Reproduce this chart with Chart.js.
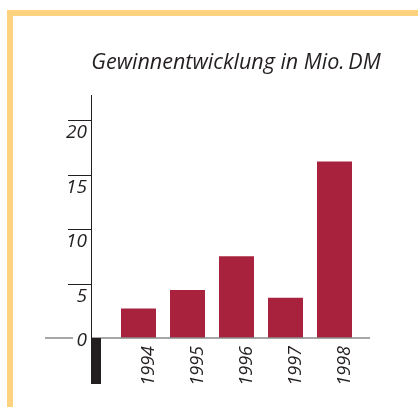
<!DOCTYPE html>
<html>
<head>
<meta charset="utf-8">
<script src="https://cdn.jsdelivr.net/npm/chart.js@4"></script>
<style>
  html, body { margin: 0; padding: 0; background: #fff; }
  #wrap { width: 418px; height: 407px; position: relative; }
</style>
</head>
<body>
<div id="wrap"><canvas id="chart-bar" width="418" height="407"></canvas></div>
<script>
var years = ["1994", "1995", "1996", "1997", "1998"];
var profit = [2.7, 4.4, 7.5, 3.7, 16.2];
var yTicks = [0, 5, 10, 15, 20];
var title = "Gewinnentwicklung in Mio.\u2009DM";

var ink = "#231f20";
var fontName = "'Open Sans', 'Noto Sans', sans-serif";

// frame, title, custom y axis with ticks above labels, zero line
var decor = {
  id: "decor",
  beforeDraw: function(chart) {
    var c = chart.ctx;
    c.save();
    c.fillStyle = "#ffd27f";
    c.fillRect(7, 10, 411, 6);
    c.fillRect(7, 10, 6, 397);
    c.restore();
  },
  afterDraw: function(chart) {
    var c = chart.ctx;
    var y = chart.scales.y;
    var area = chart.chartArea;
    var axisX = area.left - 23;
    var zero = y.getPixelForValue(0);
    c.save();

    c.fillStyle = ink;
    c.font = "italic 21.5px " + fontName;
    c.textAlign = "center";
    c.textBaseline = "alphabetic";
    c.fillText(title, 236, 69);

    // zero line
    c.strokeStyle = "#8a8a8a";
    c.lineWidth = 1.5;
    c.beginPath();
    c.moveTo(45, zero); c.lineTo(73, zero);
    c.moveTo(axisX, zero); c.lineTo(area.right + 11, zero);
    c.stroke();

    // axis line
    c.strokeStyle = ink;
    c.lineWidth = 1;
    c.beginPath();
    c.moveTo(axisX + 0.5, area.top);
    c.lineTo(axisX + 0.5, zero);
    c.stroke();

    c.fillRect(axisX, zero, 10, 46);

    c.font = "italic 19px " + fontName;
    c.textAlign = "right";
    yTicks.forEach(function(v) {
      var py = Math.round(y.getPixelForValue(v));
      if (v === 0) {
        c.fillText(String(v), axisX - 4, py + 8);
        return;
      }
      c.beginPath();
      c.moveTo(axisX - 23, py + 0.5);
      c.lineTo(axisX, py + 0.5);
      c.stroke();
      c.fillText(String(v), axisX - 4, py + 18);
    });
    c.restore();
  }
};

var ctx = document.getElementById("chart-bar").getContext("2d");
var chartBar = new Chart(ctx, {
  type: "bar",
  plugins: [decor],
  data: {
    labels: years,
    datasets: [{
      data: profit,
      backgroundColor: "#a8223e",
      categoryPercentage: 1,
      barPercentage: 0.714
    }]
  },
  options: {
    responsive: false,
    animation: false,
    layout: { padding: { top: 95, right: 59, left: 0, bottom: 0 } },
    plugins: {
      legend: { display: false },
      tooltip: { enabled: false }
    },
    scales: {
      x: {
        grid: { display: false, drawTicks: false },
        border: { display: false },
        ticks: {
          color: ink,
          font: { family: fontName, size: 18, style: "italic" },
          minRotation: 90,
          maxRotation: 90,
          padding: 8,
          labelOffset: 10
        },
        afterFit: function(s) { s.height = 69; }
      },
      y: {
        min: 0,
        max: 22.3,
        grid: { display: false, drawTicks: false },
        border: { display: false },
        ticks: { display: false },
        afterFit: function(s) { s.width = 114; }
      }
    }
  }
});
</script>
</body>
</html>
